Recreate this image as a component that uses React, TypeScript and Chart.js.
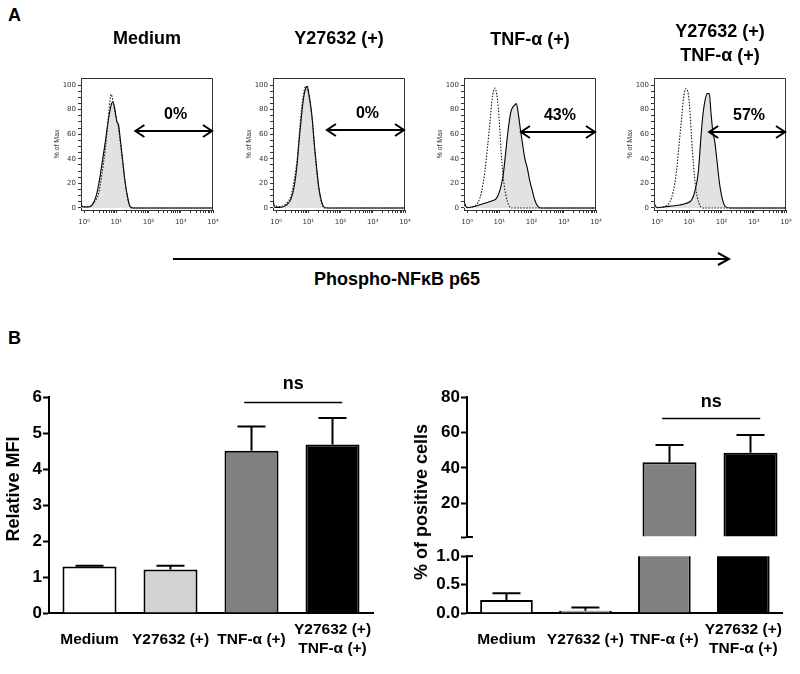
import React, { useEffect, useRef } from "react";
import { Chart, registerables } from "chart.js";

Chart.register(...registerables);

const FONT = "'Liberation Sans', Arial, Helvetica, sans-serif";

// ---------------- Panel A : flow cytometry histograms ----------------
// x = position in log10 decades of fluorescence, y = % of Max
const histTitles = [["Medium"], ["Y27632 (+)"], ["TNF-α (+)"], ["Y27632 (+)", "TNF-α (+)"]];
const histPercents = ["0%", "0%", "43%", "57%"];
const gateStartLog = [1.56, 1.545, 1.64, 1.585];
const gateLevel = [62.6, 63.4, 62, 61.5];

const medCtrlLog = [-0.096, 0.14, 0.29, 0.45, 0.55, 0.66, 0.74, 0.8, 0.84, 0.9, 0.97, 1.05, 1.12, 1.22, 1.3, 1.38, 1.48, 2.0, 3.0, 4.0];
const medCtrlPct = [1.1, 1.1, 3.8, 12, 27, 48.5, 70, 86.4, 92.4, 86.4, 75.6, 67.5, 54, 32, 16, 3.8, 0, 0, 0, 0];
const medStainLog = [-0.096, -0.05, 0.1, 0.24, 0.35, 0.45, 0.55, 0.66, 0.76, 0.84, 0.89, 0.95, 1.02, 1.07, 1.12, 1.19, 1.27, 1.36, 1.43, 1.53, 2.0, 3.0, 4.0];
const medStainPct = [3.8, 1.0, 0.8, 2.2, 7.8, 18.7, 35, 54, 72.8, 83.7, 86.4, 81, 70, 67.5, 56.6, 40.4, 21.4, 7.8, 1.1, 0, 0, 0, 0];

const yCtrlLog = [-0.096, 0.11, 0.32, 0.47, 0.57, 0.68, 0.75, 0.83, 0.92, 0.99, 1.06, 1.14, 1.22, 1.31, 1.4, 1.5, 2.5, 4.0];
const yCtrlPct = [2.4, 1.1, 3.8, 10.6, 24, 46, 70, 89, 99, 94.6, 84, 67.5, 40.4, 18.7, 5.4, 0, 0, 0];
const yStainLog = [-0.096, -0.04, 0.11, 0.32, 0.47, 0.57, 0.65, 0.71, 0.78, 0.85, 0.92, 0.97, 1.02, 1.07, 1.12, 1.17, 1.25, 1.33, 1.41, 1.5, 1.61, 2.5, 4.0];
const yStainPct = [6.5, 0.5, 0.5, 2.4, 7.8, 18.7, 35, 54, 72.8, 89, 97.6, 99, 92.4, 84, 72.8, 56.6, 35, 16, 5.4, 0.5, 0, 0, 0];

const tCtrlLog = [-0.096, 0.04, 0.19, 0.35, 0.45, 0.55, 0.63, 0.71, 0.78, 0.86, 0.92, 0.97, 1.02, 1.07, 1.15, 1.25, 1.38, 2.5, 4.0];
const tCtrlPct = [2.4, 0.3, 1.1, 5.1, 13.3, 29.5, 48.5, 70, 89, 97.6, 92.4, 81, 62, 40.4, 18.7, 5.4, 0, 0, 0];
const tStainLog = [-0.096, 0.0, 0.14, 0.35, 0.55, 0.76, 0.91, 1.02, 1.12, 1.2, 1.28, 1.36, 1.43, 1.48, 1.53, 1.58, 1.65, 1.71, 1.79, 1.87, 1.95, 2.02, 2.1, 2.2, 2.31, 3.0, 4.0];
const tStainPct = [5.1, 0.3, 0.8, 2.2, 3.8, 5.7, 7.8, 14.6, 26.8, 45.8, 64.8, 78.3, 82.4, 83.7, 85, 78.3, 64.8, 54, 40.4, 32.3, 21.4, 14.6, 6.5, 1.1, 0, 0, 0];

const cCtrlLog = [-0.096, 0.04, 0.24, 0.4, 0.5, 0.6, 0.69, 0.76, 0.82, 0.89, 0.97, 1.02, 1.07, 1.13, 1.2, 1.3, 1.43, 2.5, 4.0];
const cCtrlPct = [1.1, 0.3, 1.1, 5.1, 13.3, 29.5, 54, 72.8, 89, 97, 92.4, 78.3, 56.6, 35, 16, 3.8, 0, 0, 0];
const cStainLog = [-0.096, 0.0, 0.19, 0.45, 0.71, 0.91, 1.07, 1.17, 1.28, 1.35, 1.41, 1.48, 1.56, 1.62, 1.67, 1.73, 1.79, 1.85, 1.93, 2.02, 2.12, 2.26, 3.0, 4.0];
const cStainPct = [3.8, 0.3, 0.8, 1.6, 2.4, 3.8, 6.5, 13.3, 29.5, 54, 72.8, 86.4, 93, 93, 78.3, 62, 54, 40.4, 21.4, 7.8, 1.1, 0, 0, 0];

const hists = [
  { ctrlLog: medCtrlLog, ctrlPct: medCtrlPct, stainLog: medStainLog, stainPct: medStainPct },
  { ctrlLog: yCtrlLog, ctrlPct: yCtrlPct, stainLog: yStainLog, stainPct: yStainPct },
  { ctrlLog: tCtrlLog, ctrlPct: tCtrlPct, stainLog: tStainLog, stainPct: tStainPct },
  { ctrlLog: cCtrlLog, ctrlPct: cCtrlPct, stainLog: cStainLog, stainPct: cStainPct },
];

const histXTickLabels = ["10⁰", "10¹", "10²", "10³", "10⁴"];
const histYTickLabels = [0, 20, 40, 60, 80, 100];
const histTitleY = [[39], [39], [40], [31.7, 55.7]];
const histLeft = [81, 273, 464, 654];

// ---------------- Panel B : bar charts ----------------
const categories: (string | string[])[] = ["Medium", "Y27632 (+)", "TNF-α (+)", ["Y27632 (+)", "TNF-α (+)"]];
const barColors = ["#ffffff", "#d3d3d3", "#808080", "#000000"];
const mfiMean = [1.29, 1.21, 4.51, 4.68];
const mfiErr = [0.02, 0.1, 0.67, 0.74];
const mfiTicks = [0, 1, 2, 3, 4, 5, 6];
const posMean = [0.23, 0.04, 43.2, 48.6];
const posErr = [0.117, 0.056, 9.7, 10];
const posUpperTicks = [20, 40, 60, 80];
const posLowerTicks = [0, 0.5, 1];
const posBreakLow = 1; // lower segment top
const posBreakHigh = 1; // upper segment bottom

// ---------------- helpers ----------------
const toPts = (logs: number[], pct: number[]) => logs.map((l, i) => ({ x: Math.pow(10, l), y: pct[i] }));

const histXTickValues: number[] = [];
for (let d = 0; d < 4; d++) for (let k = 1; k < 10; k++) histXTickValues.push(k * Math.pow(10, d));
histXTickValues.push(10000);
const histYTickValues: number[] = [];
for (let v = 0; v <= 100; v += 5) histYTickValues.push(v);

const framePlugin = {
  id: "frame",
  afterDraw(chart: any) {
    const { ctx, chartArea: a } = chart;
    ctx.save();
    ctx.strokeStyle = "#333";
    ctx.lineWidth = 1;
    ctx.beginPath();
    ctx.moveTo(a.left, a.top + 0.5);
    ctx.lineTo(a.right - 0.5, a.top + 0.5);
    ctx.lineTo(a.right - 0.5, a.bottom);
    ctx.stroke();
    ctx.restore();
  },
};

function histTextPlugin(i: number) {
  return {
    id: "histText",
    afterDraw(chart: any) {
      const { ctx, chartArea: a, scales } = chart;
      ctx.save();
      ctx.fillStyle = "#000";
      ctx.textAlign = "center";
      ctx.textBaseline = "middle";
      ctx.font = `bold 18px ${FONT}`;
      const cx = (a.left + a.right) / 2;
      histTitles[i].forEach((t, k) => ctx.fillText(t, cx, histTitleY[i][k]));
      // gate arrow
      const x1 = scales.x.getPixelForValue(Math.pow(10, gateStartLog[i]));
      const x2 = a.right;
      const y = Math.round(scales.y.getPixelForValue(gateLevel[i]));
      ctx.strokeStyle = "#000";
      ctx.lineWidth = 2;
      ctx.beginPath();
      ctx.moveTo(x1 + 1, y);
      ctx.lineTo(x2 - 1, y);
      ctx.stroke();
      ctx.beginPath();
      ctx.moveTo(x1 + 10, y - 6);
      ctx.lineTo(x1 + 1, y);
      ctx.lineTo(x1 + 10, y + 6);
      ctx.stroke();
      ctx.beginPath();
      ctx.moveTo(x2 - 10, y - 6);
      ctx.lineTo(x2 - 1, y);
      ctx.lineTo(x2 - 10, y + 6);
      ctx.stroke();
      ctx.font = `bold 16px ${FONT}`;
      ctx.fillText(histPercents[i], (x1 + x2) / 2 + 2, y - 16);
      ctx.restore();
    },
  };
}

function histConfig(i: number): any {
  const h = hists[i];
  const tickFont = { family: "'DejaVu Sans', " + FONT, size: 7 };
  return {
    type: "line",
    data: {
      datasets: [
        {
          label: "Control",
          data: toPts(h.ctrlLog, h.ctrlPct),
          borderColor: "#1a1a1a",
          borderWidth: 1.1,
          borderDash: [1.5, 1.5],
          pointRadius: 0,
          fill: false,
          cubicInterpolationMode: "monotone",
        },
        {
          label: "Phospho-NFκB p65",
          data: toPts(h.stainLog, h.stainPct),
          borderColor: "#000",
          borderWidth: 1.1,
          backgroundColor: "#e2e2e2",
          pointRadius: 0,
          fill: "origin",
          cubicInterpolationMode: "monotone",
        },
      ],
    },
    options: {
      animation: false,
      responsive: false,
      maintainAspectRatio: false,
      layout: { padding: { left: 0, top: 78, right: 22, bottom: 0 } },
      plugins: { legend: { display: false }, tooltip: { enabled: false } },
      scales: {
        x: {
          type: "logarithmic",
          min: 0.8017,
          max: 10000,
          afterBuildTicks: (s: any) => {
            s.ticks = histXTickValues.map((v) => ({ value: v }));
          },
          afterFit: (s: any) => {
            s.height = 30;
          },
          ticks: {
            autoSkip: false,
            maxRotation: 0,
            minRotation: 0,
            padding: 5,
            color: "#333",
            font: tickFont,
            callback: (v: number) => {
              const e = Math.log10(v);
              const r = Math.round(e);
              return Math.abs(e - r) < 1e-6 ? histXTickLabels[r] : "";
            },
          },
          grid: { display: true, drawOnChartArea: false, drawTicks: true, tickLength: 3, tickColor: "#333", tickWidth: 1 },
          border: { display: true, color: "#333", width: 1 },
        },
        y: {
          min: -1.63,
          max: 105.7,
          afterBuildTicks: (s: any) => {
            s.ticks = histYTickValues.map((v) => ({ value: v }));
          },
          afterFit: (s: any) => {
            s.width = 28;
          },
          ticks: {
            autoSkip: false,
            padding: 2,
            color: "#333",
            font: tickFont,
            callback: (v: number) => (histYTickLabels.includes(v) ? String(v) : ""),
          },
          grid: { display: true, drawOnChartArea: false, drawTicks: true, tickLength: 3, tickColor: "#333", tickWidth: 1 },
          border: { display: true, color: "#333", width: 1 },
          title: { display: true, text: "% of Max", color: "#333", font: { family: FONT, size: 7 }, padding: 0 },
        },
      },
    },
    plugins: [framePlugin, histTextPlugin(i)],
  };
}

function errBarPlugin(means: number[], errs: number[]) {
  return {
    id: "errBars",
    afterDatasetsDraw(chart: any) {
      const { ctx, scales } = chart;
      const ys = scales.y;
      const meta = chart.getDatasetMeta(0);
      ctx.save();
      ctx.strokeStyle = "#000";
      ctx.lineWidth = 2;
      meta.data.forEach((el: any, i: number) => {
        const v = means[i];
        if (v == null || v < ys.min || v > ys.max) return;
        const yTop = ys.getPixelForValue(v + errs[i]);
        const yBar = ys.getPixelForValue(v);
        ctx.beginPath();
        ctx.moveTo(el.x, yBar);
        ctx.lineTo(el.x, yTop);
        ctx.moveTo(el.x - 14, yTop);
        ctx.lineTo(el.x + 14, yTop);
        ctx.stroke();
      });
      ctx.restore();
    },
  };
}

function sigPlugin(fromIdx: number, toIdx: number, lineVal: number, textVal: number) {
  return {
    id: "sig",
    afterDraw(chart: any) {
      const { ctx, scales } = chart;
      const x1 = scales.x.getPixelForValue(fromIdx);
      const x2 = scales.x.getPixelForValue(toIdx);
      const y = Math.round(scales.y.getPixelForValue(lineVal)) + 0.5;
      ctx.save();
      ctx.strokeStyle = "#000";
      ctx.lineWidth = 1.5;
      ctx.beginPath();
      ctx.moveTo(x1, y);
      ctx.lineTo(x2, y);
      ctx.stroke();
      ctx.fillStyle = "#000";
      ctx.font = `bold 18px ${FONT}`;
      ctx.textAlign = "center";
      ctx.textBaseline = "middle";
      ctx.fillText("ns", (x1 + x2) / 2, scales.y.getPixelForValue(textVal));
      ctx.restore();
    },
  };
}

function yTitlePlugin(text: string, x: number, y: number) {
  return {
    id: "yTitle",
    afterDraw(chart: any) {
      const { ctx } = chart;
      ctx.save();
      ctx.translate(x, y);
      ctx.rotate(-Math.PI / 2);
      ctx.fillStyle = "#000";
      ctx.font = `bold 18px ${FONT}`;
      ctx.textAlign = "center";
      ctx.textBaseline = "middle";
      ctx.fillText(text, 0, 0);
      ctx.restore();
    },
  };
}

function capPlugin(values: number[]) {
  return {
    id: "caps",
    afterDraw(chart: any) {
      const { ctx, scales, chartArea: a } = chart;
      ctx.save();
      ctx.strokeStyle = "#000";
      ctx.lineWidth = 2;
      values.forEach((v) => {
        const y = scales.y.getPixelForValue(v);
        ctx.beginPath();
        ctx.moveTo(a.left - 1, y);
        ctx.lineTo(a.left + 6, y);
        ctx.stroke();
      });
      ctx.restore();
    },
  };
}

const xCatAxis = (show: boolean, height: number) => ({
  type: "category",
  display: show,
  grid: { display: false, drawTicks: false },
  border: { display: true, color: "#000", width: 2 },
  ticks: {
    color: "#000",
    font: { family: FONT, size: 15.5, weight: "bold", lineHeight: 1.2 },
    padding: 17,
    maxRotation: 0,
    minRotation: 0,
    autoSkip: false,
    crossAlign: "center",
  },
  afterFit: (s: any) => {
    s.height = height;
  },
});

const yValAxis = (min: number, max: number, ticks: number[], width: number, fmt: (v: number) => string) => ({
  min,
  max,
  afterBuildTicks: (s: any) => {
    s.ticks = ticks.map((v) => ({ value: v }));
  },
  afterFit: (s: any) => {
    s.width = width;
  },
  ticks: { color: "#000", font: { family: FONT, size: 17, weight: "bold" }, padding: 1, autoSkip: false, callback: fmt },
  grid: { display: true, drawOnChartArea: false, drawTicks: true, tickLength: 6, tickColor: "#000", tickWidth: 2, color: "#000" },
  border: { display: true, color: "#000", width: 2 },
});

function barDataset(values: (number | null)[], base?: number) {
  const ds: any = {
    label: "mean",
    data: values,
    backgroundColor: barColors,
    borderColor: "#000",
    borderWidth: 2,
    barPercentage: 0.667,
    categoryPercentage: 1,
    clip: 0,
  };
  if (base !== undefined) ds.base = base;
  return ds;
}

const commonOpts = (padding: any) => ({
  animation: false,
  responsive: false,
  maintainAspectRatio: false,
  layout: { padding },
  plugins: { legend: { display: false }, tooltip: { enabled: false } },
});

function mfiConfig(): any {
  return {
    type: "bar",
    data: { labels: categories, datasets: [barDataset(mfiMean)] },
    options: {
      ...commonOpts({ left: 0, top: 57, right: 27, bottom: 0 }),
      scales: {
        x: xCatAxis(true, 61),
        y: yValAxis(0, 6, mfiTicks, 49, (v: number) => String(v)),
      },
    },
    plugins: [errBarPlugin(mfiMean, mfiErr), sigPlugin(1.91, 3.12, 5.86, 6.36), yTitlePlugin("Relative MFI", 14, 149)],
  };
}

function posUpperConfig(): any {
  const upper = posMean.map((v) => (v > posBreakHigh ? v : null));
  return {
    type: "bar",
    data: { labels: categories, datasets: [barDataset(upper, posBreakHigh)] },
    options: {
      ...commonOpts({ left: 0, top: 57, right: 9, bottom: 63 }),
      scales: {
        x: xCatAxis(false, 0),
        y: yValAxis(posBreakHigh, 80, [posBreakHigh, ...posUpperTicks], 67, (v: number) => (v === posBreakHigh ? "" : String(v))),
      },
    },
    plugins: [errBarPlugin(posMean, posErr), sigPlugin(1.91, 3.12, 68.1, 77.2), yTitlePlugin("% of positive cells", 22, 162), capPlugin([posBreakHigh])],
  };
}

function posLowerConfig(): any {
  return {
    type: "bar",
    data: { labels: categories, datasets: [barDataset(posMean)] },
    options: {
      ...commonOpts({ left: 0, top: 8, right: 9, bottom: 0 }),
      scales: {
        x: xCatAxis(true, 61),
        y: yValAxis(0, posBreakLow, posLowerTicks, 67, (v: number) => v.toFixed(1)),
      },
    },
    plugins: [errBarPlugin(posMean, posErr), capPlugin([posBreakLow])],
  };
}

function ChartCanvas({ x, y, w, h, make }: { x: number; y: number; w: number; h: number; make: () => any }) {
  const ref = useRef<HTMLCanvasElement>(null);
  useEffect(() => {
    const chart = new Chart(ref.current as HTMLCanvasElement, make());
    return () => chart.destroy();
  }, []);
  return (
    <canvas
      ref={ref}
      width={w}
      height={h}
      style={{ position: "absolute", left: x, top: y, width: w, height: h }}
    />
  );
}

export default function App() {
  const letter = { position: "absolute" as const, left: 8, font: `bold 18px/20px ${FONT}`, color: "#000" };
  return (
    <div
      style={{
        position: "fixed",
        left: 0,
        top: 0,
        width: 800,
        height: 674,
        overflow: "hidden",
        background: "#fff",
      }}
    >
      <div style={{ ...letter, top: 5 }}>A</div>
      <div style={{ ...letter, top: 328 }}>B</div>
      <svg width={800} height={674} style={{ position: "absolute", left: 0, top: 0 }}>
        <line x1={173} y1={259} x2={729} y2={259} stroke="#000" strokeWidth={2} />
        <polyline points="718,253 729,259 718,265" fill="none" stroke="#000" strokeWidth={2} />
      </svg>
      <div
        style={{
          position: "absolute",
          left: 247,
          top: 269,
          width: 300,
          textAlign: "center",
          font: `bold 18px/20px ${FONT}`,
          color: "#000",
        }}
      >
        Phospho-NFκB p65
      </div>
      {histLeft.map((l, i) => (
        <ChartCanvas key={i} x={l - 28} y={0} w={182} h={240} make={() => histConfig(i)} />
      ))}
      <ChartCanvas x={0} y={340} w={400} h={334} make={mfiConfig} />
      <ChartCanvas x={400} y={340} w={400} h={260} make={posUpperConfig} />
      <ChartCanvas x={400} y={545} w={400} h={129} make={posLowerConfig} />
    </div>
  );
}
